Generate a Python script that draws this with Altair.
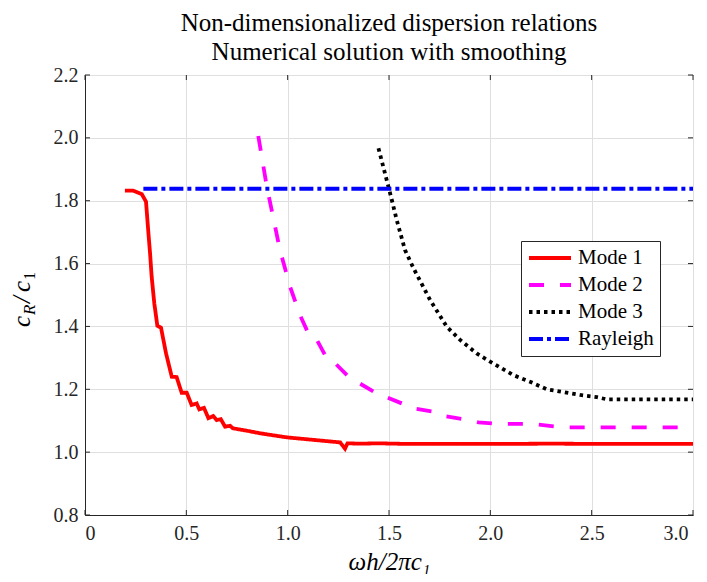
import altair as alt
import pandas as pd

# ---------------- data ----------------
series_names = ["Mode 1", "Mode 2", "Mode 3", "Rayleigh"]
series_colors = ["#FF0000", "#FF00FF", "#000000", "#0000FF"]

mode1_x = [0.197, 0.238, 0.280, 0.301, 0.313, 0.321, 0.329, 0.342, 0.357, 0.375, 0.400,
           0.428, 0.452, 0.477, 0.502, 0.526, 0.551, 0.564, 0.587, 0.609, 0.633, 0.650,
           0.670, 0.691, 0.716, 0.729, 0.800, 0.864, 0.995, 1.127, 1.259, 1.283, 1.295,
           1.357, 1.450, 1.600, 1.800, 2.000, 2.300, 2.600, 3.000]
mode1_y = [1.832, 1.832, 1.821, 1.797, 1.696, 1.633, 1.558, 1.473, 1.402, 1.396, 1.314,
           1.240, 1.239, 1.189, 1.189, 1.150, 1.155, 1.136, 1.141, 1.108, 1.115, 1.102,
           1.105, 1.081, 1.084, 1.076, 1.068, 1.060, 1.047, 1.039, 1.031, 1.011, 1.028,
           1.027, 1.028, 1.026, 1.026, 1.026, 1.027, 1.026, 1.026]

mode2_x = [0.855, 0.897, 0.962, 1.012, 1.061, 1.102, 1.127, 1.144, 1.193, 1.226, 1.308,
           1.349, 1.440, 1.481, 1.571, 1.620, 1.719, 1.769, 1.867, 1.941, 2.032, 2.200,
           2.361, 2.600, 2.950]
mode2_y = [2.006, 1.845, 1.643, 1.526, 1.436, 1.378, 1.359, 1.357, 1.299, 1.288, 1.235,
           1.221, 1.187, 1.177, 1.153, 1.139, 1.129, 1.115, 1.105, 1.095, 1.090, 1.090,
           1.079, 1.079, 1.079]

mode3_x = [1.448, 1.497, 1.514, 1.538, 1.579, 1.621, 1.703, 1.785, 1.851, 1.933, 1.999,
           2.114, 2.196, 2.279, 2.443, 2.526, 2.575, 3.000]
mode3_y = [1.967, 1.845, 1.802, 1.739, 1.643, 1.585, 1.484, 1.399, 1.357, 1.314, 1.288,
           1.245, 1.224, 1.200, 1.182, 1.175, 1.168, 1.168]

rayleigh_x = [0.288, 3.000]
rayleigh_y = [1.838, 1.838]

x_ticks = [0, 0.5, 1.0, 1.5, 2.0, 2.5, 3.0]
y_ticks = [0.8, 1.0, 1.2, 1.4, 1.6, 1.8, 2.0, 2.2]

title_lines = ["Non-dimensionalized dispersion relations", "Numerical solution with smoothing"]

# ---------------- build table ----------------
rows = []
for name, xs_, ys_ in zip(series_names,
                          [mode1_x, mode2_x, mode3_x, rayleigh_x],
                          [mode1_y, mode2_y, mode3_y, rayleigh_y]):
    for i, (a, b) in enumerate(zip(xs_, ys_)):
        rows.append({"series": name, "x": a, "y": b, "i": i})
df = pd.DataFrame(rows)

W, H = 608, 440
FONT = "Liberation Serif, Times New Roman, DejaVu Serif, serif"
AX = "#262626"
TICK = 5

xscale = alt.Scale(domain=[0, 3], nice=False, zero=False)
yscale = alt.Scale(domain=[0.8, 2.2], nice=False, zero=False)

xaxis = alt.Axis(
    values=x_ticks,
    labelExpr="datum.value == 0 ? '0' : format(datum.value, '.1f')",
    title="ωh/2πc₁",
    titleFont=FONT, titleFontSize=25, titleFontStyle="italic", titleFontWeight="normal",
    titleColor="#000000", titleY=54, titleBaseline="alphabetic",
    labelFont=FONT, labelFontSize=20, labelColor=AX, labelPadding=8,
    labelOffset={"condition": {"test": "datum.value == 3", "value": -5}, "value": 0},
    ticks=False, domainColor=AX, domainWidth=1,
    grid=True, gridColor="#dfdfdf", gridWidth=1,
)
yaxis = alt.Axis(
    values=y_ticks,
    format=".1f",
    title=None,
    labelFont=FONT, labelFontSize=20, labelColor=AX, labelPadding=7,
    ticks=False, domainColor=AX, domainWidth=1,
    grid=True, gridColor="#dfdfdf", gridWidth=1,
)

X = alt.X("x:Q", scale=xscale, axis=xaxis)
Y = alt.Y("y:Q", scale=yscale, axis=yaxis)

legend_opts = dict(
    title=None, orient="none", legendX=436, legendY=166,
    symbolType="stroke", symbolSize=1764, symbolStrokeWidth=4,
    labelFont=FONT, labelFontSize=21, labelColor="#000000", labelOffset=5,
    clipHeight=22, rowPadding=5, padding=6,
    fillColor="#ffffff", strokeColor=AX, cornerRadius=0,
)

lines = alt.Chart(df).mark_line(strokeWidth=3.8, clip=True).encode(
    x=X,
    y=Y,
    color=alt.Color(
        "series:N",
        scale=alt.Scale(domain=series_names, range=series_colors),
        legend=alt.Legend(**legend_opts),
    ),
    strokeDash=alt.StrokeDash(
        "series:N",
        scale=alt.Scale(domain=series_names,
                        range=[[1, 0], [15, 16], [3.5, 4], [14, 4, 4, 4]]),
        legend=alt.Legend(**legend_opts),
    ),
    order="i:Q",
)

# inward tick marks on all four sides (MATLAB box style)
yt = pd.DataFrame({"y": y_ticks})
xt = pd.DataFrame({"x": x_ticks})
ticks_left = alt.Chart(yt).mark_rule(color=AX, strokeWidth=1).encode(
    y=Y, x=alt.value(0), x2=alt.value(TICK))
ticks_right = alt.Chart(yt).mark_rule(color=AX, strokeWidth=1).encode(
    y=Y, x=alt.value(W), x2=alt.value(W - TICK))
ticks_bottom = alt.Chart(xt).mark_rule(color=AX, strokeWidth=1).encode(
    x=X, y=alt.value(H), y2=alt.value(H - TICK))
ticks_top = alt.Chart(xt).mark_rule(color=AX, strokeWidth=1).encode(
    x=X, y=alt.value(0), y2=alt.value(TICK))

# y-axis title c_R / c_1 built from pieces (rotated)
one = pd.DataFrame({"a": [0]})
def piece(txt, xpos, ypos, size, italic=True):
    return alt.Chart(one).mark_text(
        text=txt, angle=270, align="left", baseline="alphabetic",
        font=FONT, fontSize=size, fontStyle="italic" if italic else "normal",
        color="#000000",
    ).encode(x=alt.value(xpos), y=alt.value(ypos))

ytitle = (piece("c", -55, 252, 25) + piece("R", -50, 240, 17)
          + piece("/", -55, 228, 25) + piece("c", -55, 217, 25)
          + piece("1", -50, 205, 16, italic=False))

chart = alt.layer(
    lines, ticks_left, ticks_right, ticks_bottom, ticks_top, ytitle
).properties(
    width=W, height=H,
    title=alt.TitleParams(
        text=title_lines, font=FONT, fontSize=25, fontWeight="normal",
        color="#000000", anchor="middle", lineHeight=29, offset=0,
    ),
    autosize=alt.AutoSizeParams(type="none"),
    padding={"left": 77, "top": 67, "right": 6, "bottom": 59},
).configure(
    font=FONT
).configure_view(
    stroke=AX, strokeWidth=1
)

chart.save("out.html", embed_options={"renderer": "svg", "actions": False})
